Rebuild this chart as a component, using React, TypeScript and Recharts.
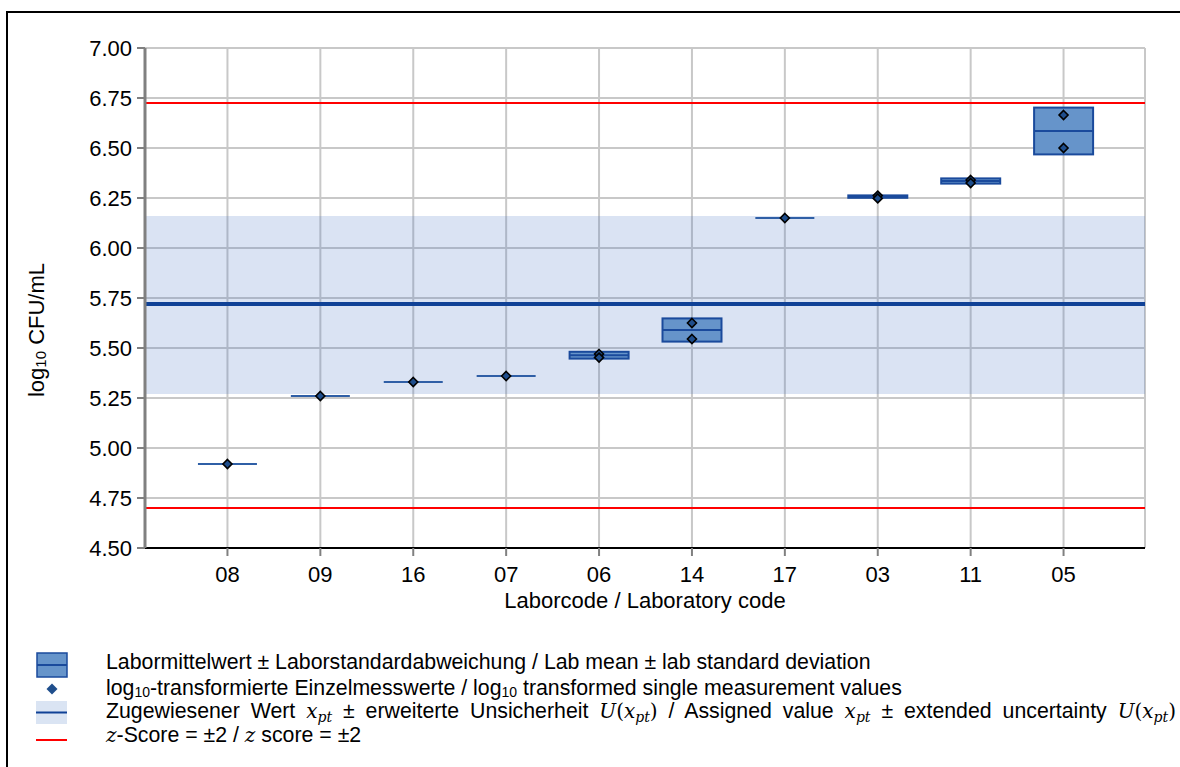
import React from 'react';
import {
  ComposedChart, Bar, Scatter, XAxis, YAxis, CartesianGrid, ReferenceArea, ReferenceLine,
} from 'recharts';

// Lab codes in ranking order
const labCodes = ['08', '09', '16', '07', '06', '14', '17', '03', '11', '05'];
// log10 single measurement values (second value only where a lab reported two)
const firstValue = [4.92, 5.26, 5.33, 5.36, 5.47, 5.625, 6.15, 6.262, 6.34, 6.665];
const secondValue = [null, null, null, null, 5.452, 5.545, null, 6.248, 6.325, 6.5];
// lab mean and lab standard deviation
const labMean = [4.92, 5.26, 5.33, 5.36, 5.464, 5.59, 6.15, 6.257, 6.335, 6.585];
const labSd = [0, 0, 0, 0, 0.017, 0.058, 0, 0.006, 0.013, 0.117];

const yTicks = [4.5, 4.75, 5.0, 5.25, 5.5, 5.75, 6.0, 6.25, 6.5, 6.75, 7.0];
const assignedValue = 5.72;
const uncertaintyLow = 5.27;
const uncertaintyHigh = 6.16;
const zScoreLow = 4.7;
const zScoreHigh = 6.725;

const BOX_W = 59;
const FONT = '"Liberation Sans", Arial, sans-serif';
const MATH = '"DejaVu Serif", "Liberation Serif", serif';

const data = labCodes.map((code, i) => ({
  code,
  mean: labMean[i],
  range: labSd[i] > 0 ? [labMean[i] - labSd[i], labMean[i] + labSd[i]] : null,
  v1: firstValue[i],
  v2: secondValue[i],
}));

const LabBox = (props: any) => {
  const { x, y, width, height, payload } = props;
  if (!payload || !payload.range || !isFinite(y) || !isFinite(height)) return <g />;
  return (
    <rect x={x} y={y} width={width} height={height}
      fill="#6694ca" stroke="#1a4a9c" strokeWidth={2} />
  );
};

const MeanLine = (props: any) => {
  const { cx, cy, payload } = props;
  if (cx == null || cy == null || !isFinite(cy)) return <g />;
  const boxed = payload && payload.range;
  return (
    <line x1={cx - BOX_W / 2} x2={cx + BOX_W / 2} y1={cy} y2={cy}
      stroke={boxed ? '#1a4a9c' : '#2f5fa6'} strokeWidth={2} />
  );
};

const Diamond = (props: any) => {
  const { cx, cy } = props;
  if (cx == null || cy == null || !isFinite(cy)) return <g />;
  const r = 4.5;
  return (
    <polygon points={`${cx},${cy - r} ${cx + r},${cy} ${cx},${cy + r} ${cx - r},${cy}`}
      fill="#1f4e8c" stroke="#000" strokeWidth={1.6} />
  );
};

const Xpt = () => (
  <span style={{ fontFamily: MATH, fontStyle: 'italic', fontSize: 20 }}>
    x<sub style={{ fontSize: 14, verticalAlign: -4 }}>pt</sub>
  </span>
);
const UXpt = () => (
  <span style={{ fontFamily: MATH, fontSize: 20 }}>
    <i>U</i>(<Xpt />)
  </span>
);

const rowStyle: React.CSSProperties = {
  position: 'absolute', left: 98, fontSize: 21.3, lineHeight: '24px', whiteSpace: 'nowrap', color: '#000',
};

export default function App() {
  return (
    <div style={{
      position: 'fixed', left: 6, top: 11, width: 1200, height: 800, background: '#fff',
      borderLeft: '2px solid #000', borderTop: '2px solid #000', fontFamily: FONT, overflow: 'hidden',
    }}>
      <div style={{ position: 'absolute', left: 0, top: 0 }}>
        <ComposedChart width={1160} height={620} data={data}
          margin={{ top: 35, right: 23, bottom: 20, left: 0 }}>
          <CartesianGrid stroke="#c8c8c8" strokeWidth={2} />
          {/* unpadded axis so the uncertainty band runs over the full plot width */}
          <XAxis xAxisId="full" type="number" hide />
          <ReferenceArea xAxisId="full" y1={uncertaintyLow} y2={uncertaintyHigh}
            fill="#4472c4" fillOpacity={0.2} stroke="none" />
          <XAxis dataKey="code" type="category" height={65} padding={{ left: 36, right: 35 }}
            axisLine={{ stroke: '#000', strokeWidth: 2 }}
            tickLine={{ stroke: '#808080', strokeWidth: 2 }} tickSize={8} tickMargin={10}
            tick={{ fill: '#000', fontSize: 22, fontFamily: FONT }} interval={0}
            label={{
              content: (p: any) => (
                <text x={p.viewBox.x + p.viewBox.width / 2} y={p.viewBox.y + 60} textAnchor="middle"
                  fontSize={22} fontFamily={FONT} fill="#000">Laborcode / Laboratory code</text>
              ),
            }} />
          <YAxis type="number" domain={[4.5, 7]} ticks={yTicks} width={137} allowDataOverflow
            tickFormatter={(v: number) => v.toFixed(2)}
            axisLine={{ stroke: '#808080', strokeWidth: 3 }}
            tickLine={{ stroke: '#808080', strokeWidth: 2 }} tickSize={8} tickMargin={5}
            tick={{ fill: '#000', fontSize: 22, fontFamily: FONT }}
            label={{
              content: () => (
                <text transform="translate(36,317) rotate(-90)" textAnchor="middle"
                  fontSize={22} fontFamily={FONT} fill="#000">
                  log<tspan fontSize={15} dy={2}>10</tspan><tspan dy={-2}> CFU/mL</tspan>
                </text>
              ),
            }} />
          <YAxis yAxisId="edge" orientation="right" width={0} tick={false} tickLine={false}
            axisLine={{ stroke: '#c8c8c8', strokeWidth: 2 }} />
          <ReferenceLine y={zScoreHigh} stroke="#ff0000" strokeWidth={2} />
          <ReferenceLine y={zScoreLow} stroke="#ff0000" strokeWidth={2} />
          <ReferenceLine y={assignedValue} stroke="#0f4196" strokeWidth={4} />
          <Bar dataKey="range" barSize={BOX_W} shape={LabBox} isAnimationActive={false} />
          <Scatter dataKey="mean" shape={MeanLine} isAnimationActive={false} />
          <Scatter dataKey="v1" shape={Diamond} isAnimationActive={false} />
          <Scatter dataKey="v2" shape={Diamond} isAnimationActive={false} />
        </ComposedChart>
      </div>

      {/* legend */}
      <svg style={{ position: 'absolute', left: 0, top: 630 }} width={80} height={110}>
        <rect x={29} y={10} width={30} height={24} fill="#6694ca" stroke="#1a4a9c" strokeWidth={1.5} />
        <line x1={29} x2={59} y1={22} y2={22} stroke="#1a4a9c" strokeWidth={2} />
        <polygon points="44,40.5 49.5,46 44,51.5 38.5,46" fill="#1f4e8c" />
        <rect x={28} y={58} width={31} height={23} fill="#dae4f3" />
        <line x1={28} x2={59} y1={69.5} y2={69.5} stroke="#0f4196" strokeWidth={2} />
        <line x1={28} x2={59} y1={97} y2={97} stroke="#ff0000" strokeWidth={2} />
      </svg>
      <div style={{ ...rowStyle, top: 637 }}>
        Labormittelwert ± Laborstandardabweichung / Lab mean ± lab standard deviation
      </div>
      <div style={{ ...rowStyle, top: 663 }}>
        log<sub style={{ fontSize: 14, verticalAlign: -2 }}>10</sub>-transformierte Einzelmesswerte / log<sub style={{ fontSize: 14, verticalAlign: -2 }}>10</sub> transformed single measurement values
      </div>
      <div style={{ ...rowStyle, top: 686, wordSpacing: 5 }}>
        Zugewiesener Wert <Xpt /> ± erweiterte Unsicherheit <UXpt /> / Assigned value <Xpt /> ± extended uncertainty <UXpt />
      </div>
      <div style={{ ...rowStyle, top: 710 }}>
        <i style={{ fontFamily: MATH, fontSize: 20 }}>z</i>-Score = ±2 / <i style={{ fontFamily: MATH, fontSize: 20 }}>z</i> score = ±2
      </div>
    </div>
  );
}
